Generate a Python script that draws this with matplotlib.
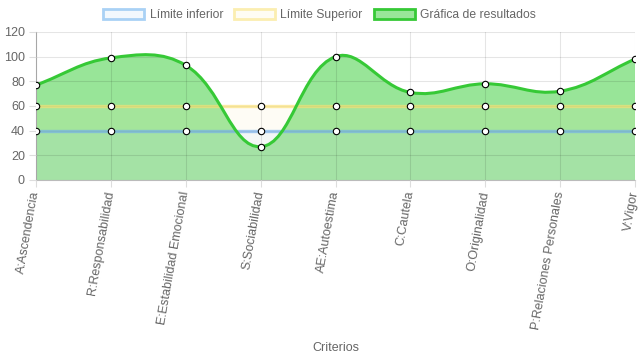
import numpy as np
import matplotlib
matplotlib.use("Agg")
import matplotlib.pyplot as plt
from matplotlib.path import Path
from matplotlib.patches import PathPatch, Patch

plt.rcParams["font.family"] = ["Liberation Sans", "DejaVu Sans"]

# data
criterios = ["A:Ascendencia", "R:Responsabilidad", "E:Estabilidad Emocional",
             "S:Sociabilidad", "AE:Autoestima", "C:Cautela", "O:Originalidad",
             "P:Relaciones Personales", "V:Vigor"]
limite_inferior = [40, 40, 40, 40, 40, 40, 40, 40, 40]
limite_superior = [60, 60, 60, 60, 60, 60, 60, 60, 60]
resultados = [77, 99, 93, 27, 100, 71, 78, 72, 98]

W, H = 639, 360
fig = plt.figure(figsize=(W / 100, H / 100), dpi=100)
ax = fig.add_axes([36 / W, 1 - 180 / H, (635 - 36) / W, (180 - 32) / H])

ymin, ymax = 0, 120
xs = np.arange(len(criterios))
# pixel scale, so the curve tension behaves like a chart.js spline
sx = (635 - 36) / (len(criterios) - 1)
sy = (180 - 32) / (ymax - ymin)


def smooth_path(x, y, t=0.4):
    px = np.array(x, float) * sx
    py = np.array(y, float) * sy
    n = len(px)
    cps = []
    for i in range(n):
        p0 = (px[max(i - 1, 0)], py[max(i - 1, 0)])
        p1 = (px[i], py[i])
        p2 = (px[min(i + 1, n - 1)], py[min(i + 1, n - 1)])
        d01 = np.hypot(p1[0] - p0[0], p1[1] - p0[1])
        d12 = np.hypot(p2[0] - p1[0], p2[1] - p1[1])
        tot = d01 + d12
        s01 = d01 / tot if tot else 0
        s12 = d12 / tot if tot else 0
        fa, fb = t * s01, t * s12
        c_prev = (p1[0] - fa * (p2[0] - p0[0]), p1[1] - fa * (p2[1] - p0[1]))
        c_next = (p1[0] + fb * (p2[0] - p0[0]), p1[1] + fb * (p2[1] - p0[1]))
        # keep control points inside the chart area
        c_prev = (c_prev[0], min(max(c_prev[1], ymin * sy), ymax * sy))
        c_next = (c_next[0], min(max(c_next[1], ymin * sy), ymax * sy))
        cps.append((c_prev, c_next))
    verts = [(px[0], py[0])]
    codes = [Path.MOVETO]
    for i in range(1, n):
        verts += [cps[i - 1][1], cps[i][0], (px[i], py[i])]
        codes += [Path.CURVE4] * 3
    verts = [(a / sx, b / sy) for a, b in verts]
    return verts, codes


green_line = "#36c936"
green_fill = (0.2, 0.8, 0.2, 0.5)
blue_line = (0.45, 0.68, 0.92, 0.65)
blue_fill = (0.66, 0.82, 0.96, 0.12)
yellow_line = (0.98, 0.88, 0.45, 0.65)
yellow_fill = (0.99, 0.93, 0.7, 0.12)

# green results area (bottom layer)
verts, codes = smooth_path(xs, resultados)
area = verts + [(xs[-1], 0), (xs[0], 0), verts[0]]
area_codes = codes + [Path.LINETO, Path.LINETO, Path.CLOSEPOLY]
ax.add_patch(PathPatch(Path(area, area_codes), facecolor=green_fill,
                       edgecolor="none", zorder=1))

# limits
ax.fill_between(xs, 0, limite_superior, color=yellow_fill, lw=0, zorder=2)
ax.fill_between(xs, 0, limite_inferior, color=blue_fill, lw=0, zorder=2)
ax.plot(xs, limite_superior, color=yellow_line, lw=2.4, zorder=3)
ax.plot(xs, limite_inferior, color=blue_line, lw=2.4, zorder=3)
ax.add_patch(PathPatch(Path(verts, codes), facecolor="none",
                       edgecolor=green_line, lw=2.2, zorder=4))

for serie in [resultados, limite_superior, limite_inferior]:
    ax.plot(xs, serie, ls="none", marker="o", ms=4.6, mfc="white",
            mec="black", mew=0.8, zorder=5)

ax.set_xlim(xs[0], xs[-1])
ax.set_ylim(ymin, ymax)
ax.set_yticks(range(0, 121, 20))
ax.set_xticks(xs)
ax.set_xticklabels(criterios, rotation=80, ha="right", va="center",
                   rotation_mode="anchor")
ax.tick_params(axis="both", labelsize=9, labelcolor="#666666", length=5,
               width=0.8, pad=3, color="#dddddd")
ax.grid(True, color="black", alpha=0.1, lw=0.8)
ax.set_axisbelow(False)
for s in ["top", "right"]:
    ax.spines[s].set_visible(False)
ax.spines["left"].set_color("#bbbbbb")
ax.spines["bottom"].set_color("#bbbbbb")

fig.text((36 + 635) / 2 / W, 1 - 348 / H, "Criterios", ha="center",
         va="center", fontsize=9, color="#666666")

handles = [
    Patch(facecolor=(0.66, 0.82, 0.96, 0.15), edgecolor="#a9d1f5", lw=2,
          label="Límite inferior"),
    Patch(facecolor=(0.99, 0.93, 0.7, 0.15), edgecolor="#fbeeb0", lw=2,
          label="Límite Superior"),
    Patch(facecolor="#99e699", edgecolor=green_line, lw=2,
          label="Gráfica de resultados"),
]
fig.legend(handles=handles, loc="center", bbox_to_anchor=(0.5, 1 - 15 / H),
           ncol=3, frameon=False, fontsize=8.7, labelcolor="#666666",
           handlelength=3.4, handleheight=0.9, columnspacing=0.9,
           handletextpad=0.45, borderpad=0.2)

fig.savefig("out.png", dpi=100)
